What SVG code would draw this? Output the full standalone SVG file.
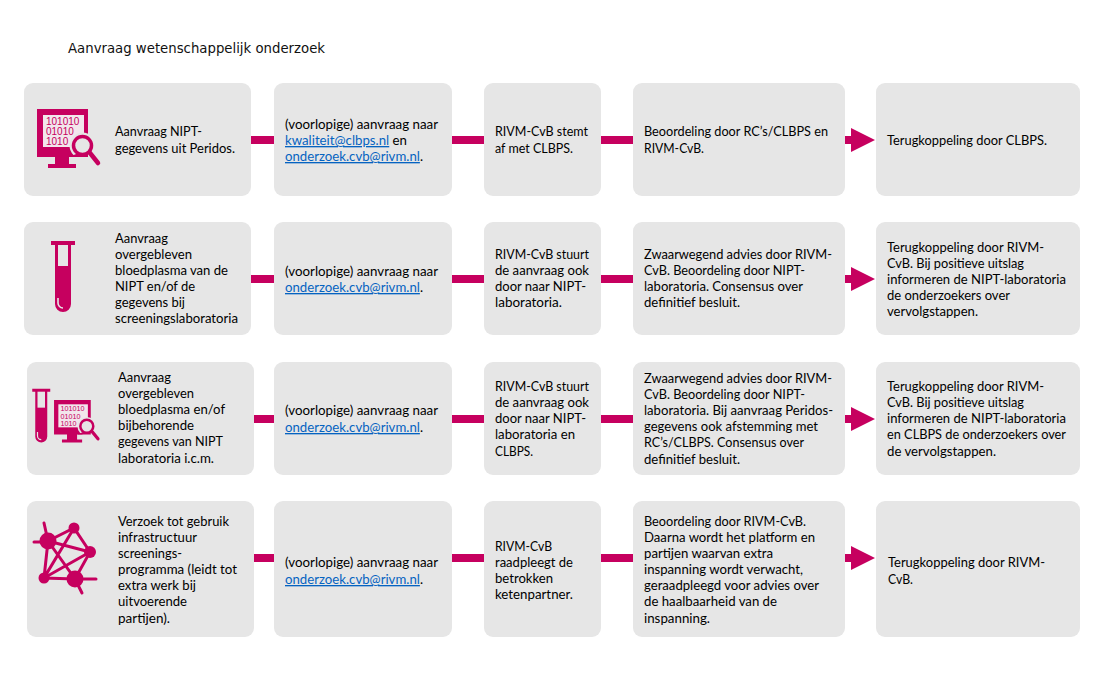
<svg xmlns="http://www.w3.org/2000/svg" width="1115" height="699" viewBox="0 0 1115 699">
<style>
.box{fill:#e6e6e6}
text{lengthAdjust:spacingAndGlyphs}
.t{font-family:"Lato","Open Sans","Liberation Sans",sans-serif;font-size:13.3px;fill:#000}
.h{font-family:"DejaVu Sans",sans-serif;font-size:13.2px;fill:#111}
.l{fill:#0563c1;text-decoration:underline}
.m{fill:#c6005f}
.s{stroke:#c6005f;fill:none}
.c{fill:#c6005f}
.d{font-family:"Liberation Sans",sans-serif;font-size:10px;fill:#c6005f}
</style>
<defs>
<g id="monitor">
<path class="m" d="M37 109H88V157H69V164H76V168H48V164H55V157H37Z"/>
<rect x="43" y="115" width="41" height="32" fill="#f2e6ec"/>
<text class="d" x="46" y="125">101010</text>
<text class="d" x="46" y="135">01010</text>
<text class="d" x="46" y="145">1010</text>
<circle cx="82.500" cy="145.500" r="13" fill="#e6e6e6"/>
<path d="M69 157H88V149Z" class="m"/>
<circle cx="82.500" cy="145.500" r="9" fill="#e6e6e6" stroke="#c6005f" stroke-width="3.500"/>
<path class="s" d="M90 153L98 163" stroke-width="4.500" stroke-linecap="round"/>
</g>
<g id="tube">
<path class="m" d="M51 241H75V245H71V304A8 8 0 0 1 55 304V245H51Z"/>
<rect x="58" y="245" width="10" height="21" fill="#e6e6e6"/>
<path d="M58 298V303A5 5 0 0 0 63 308" stroke="#e6e6e6" stroke-width="1.600" fill="none"/>
</g>
</defs>
<text class="h" x="68" y="53" textLength="257" lengthAdjust="spacingAndGlyphs">Aanvraag wetenschappelijk onderzoek</text>

<g id="connectors">
<rect class="c" x="251" y="136" width="23" height="8"/><rect class="c" x="452" y="136" width="32" height="8"/><rect class="c" x="601" y="136" width="32" height="8"/>
<path class="c" d="M845 136H851V128L875 140L851 152V144H845Z"/>
<rect class="c" x="251" y="275" width="23" height="8"/><rect class="c" x="452" y="275" width="32" height="8"/><rect class="c" x="601" y="275" width="32" height="8"/>
<path class="c" d="M845 275H851V267L875 279L851 291V283H845Z"/>
<rect class="c" x="254" y="415" width="20" height="8"/><rect class="c" x="452" y="415" width="32" height="8"/><rect class="c" x="601" y="415" width="32" height="8"/>
<path class="c" d="M845 415H851V407L875 419L851 431V423H845Z"/>
<rect class="c" x="254" y="554" width="20" height="8"/><rect class="c" x="452" y="554" width="32" height="8"/><rect class="c" x="601" y="554" width="32" height="8"/>
<path class="c" d="M845 554H851V546L875 558L851 570V562H845Z"/>
</g>

<g id="r1c1"><rect class="box" x="24" y="83" width="227" height="113" rx="9"/><use href="#monitor"/>
<text class="t" x="115" y="136" textLength="87" lengthAdjust="spacingAndGlyphs">Aanvraag NIPT-</text><text class="t" x="115" y="153" textLength="120" lengthAdjust="spacingAndGlyphs">gegevens uit Peridos.</text></g>
<g id="r1c2"><rect class="box" x="274" y="83" width="178" height="113" rx="9"/>
<text class="t" x="285" y="129" textLength="153" lengthAdjust="spacingAndGlyphs">(voorlopige) aanvraag naar</text><text class="t" x="285" y="145" textLength="122" lengthAdjust="spacingAndGlyphs"><tspan class="l">kwaliteit@clbps.nl</tspan> en</text><text class="t" x="285" y="161" textLength="138" lengthAdjust="spacingAndGlyphs"><tspan class="l">onderzoek.cvb@rivm.nl</tspan>.</text></g>
<g id="r1c3"><rect class="box" x="484" y="83" width="117" height="113" rx="9"/>
<text class="t" x="495" y="136" textLength="93" lengthAdjust="spacingAndGlyphs">RIVM-CvB stemt</text><text class="t" x="495" y="153" textLength="78" lengthAdjust="spacingAndGlyphs">af met CLBPS.</text></g>
<g id="r1c4"><rect class="box" x="633" y="83" width="212" height="113" rx="9"/>
<text class="t" x="644" y="136" textLength="184" lengthAdjust="spacingAndGlyphs">Beoordeling door RC’s/CLBPS en</text><text class="t" x="644" y="153" textLength="60" lengthAdjust="spacingAndGlyphs">RIVM-CvB.</text></g>
<g id="r1c5"><rect class="box" x="876" y="83" width="204" height="113" rx="9"/>
<text class="t" x="887" y="145" textLength="160" lengthAdjust="spacingAndGlyphs">Terugkoppeling door CLBPS.</text></g>

<g id="r2c1"><rect class="box" x="24" y="222" width="227" height="113" rx="9"/><use href="#tube"/>
<text class="t" x="115" y="243" textLength="53" lengthAdjust="spacingAndGlyphs">Aanvraag</text><text class="t" x="115" y="259" textLength="77" lengthAdjust="spacingAndGlyphs">overgebleven</text><text class="t" x="115" y="275" textLength="113" lengthAdjust="spacingAndGlyphs">bloedplasma van de</text><text class="t" x="115" y="291" textLength="80" lengthAdjust="spacingAndGlyphs">NIPT en/of de</text><text class="t" x="115" y="307" textLength="70" lengthAdjust="spacingAndGlyphs">gegevens bij</text><text class="t" x="115" y="323" textLength="123" lengthAdjust="spacingAndGlyphs">screeningslaboratoria</text></g>
<g id="r2c2"><rect class="box" x="274" y="222" width="178" height="113" rx="9"/>
<text class="t" x="285" y="276" textLength="153" lengthAdjust="spacingAndGlyphs">(voorlopige) aanvraag naar</text><text class="t" x="285" y="292" textLength="138" lengthAdjust="spacingAndGlyphs"><tspan class="l">onderzoek.cvb@rivm.nl</tspan>.</text></g>
<g id="r2c3"><rect class="box" x="484" y="222" width="117" height="113" rx="9"/>
<text class="t" x="495" y="259" textLength="94" lengthAdjust="spacingAndGlyphs">RIVM-CvB stuurt</text><text class="t" x="495" y="275" textLength="94" lengthAdjust="spacingAndGlyphs">de aanvraag ook</text><text class="t" x="495" y="291" textLength="91" lengthAdjust="spacingAndGlyphs">door naar NIPT-</text><text class="t" x="495" y="307" textLength="67" lengthAdjust="spacingAndGlyphs">laboratoria.</text></g>
<g id="r2c4"><rect class="box" x="633" y="222" width="212" height="113" rx="9"/>
<text class="t" x="644" y="259" textLength="188" lengthAdjust="spacingAndGlyphs">Zwaarwegend advies door RIVM-</text><text class="t" x="644" y="275" textLength="161" lengthAdjust="spacingAndGlyphs">CvB. Beoordeling door NIPT-</text><text class="t" x="644" y="291" textLength="159" lengthAdjust="spacingAndGlyphs">laboratoria. Consensus over</text><text class="t" x="644" y="307" textLength="96" lengthAdjust="spacingAndGlyphs">definitief besluit.</text></g>
<g id="r2c5"><rect class="box" x="876" y="222" width="204" height="113" rx="9"/>
<text class="t" x="887" y="252" textLength="157" lengthAdjust="spacingAndGlyphs">Terugkoppeling door RIVM-</text><text class="t" x="887" y="268" textLength="137" lengthAdjust="spacingAndGlyphs">CvB. Bij positieve uitslag</text><text class="t" x="887" y="284" textLength="179" lengthAdjust="spacingAndGlyphs">informeren de NIPT-laboratoria</text><text class="t" x="887" y="300" textLength="123" lengthAdjust="spacingAndGlyphs">de onderzoekers over</text><text class="t" x="887" y="316" textLength="91" lengthAdjust="spacingAndGlyphs">vervolgstappen.</text></g>

<g id="r3c1"><rect class="box" x="27" y="362" width="227" height="113" rx="9"/>
<use href="#tube" transform="translate(-6 205.500) scale(.75 .76)"/>
<use href="#monitor" transform="translate(27.400 321.500) scale(.72)"/>
<text class="t" x="118" y="382" textLength="53" lengthAdjust="spacingAndGlyphs">Aanvraag</text><text class="t" x="118" y="398" textLength="76" lengthAdjust="spacingAndGlyphs">overgebleven</text><text class="t" x="118" y="414" textLength="107" lengthAdjust="spacingAndGlyphs">bloedplasma en/of</text><text class="t" x="118" y="430" textLength="76" lengthAdjust="spacingAndGlyphs">bijbehorende</text><text class="t" x="118" y="446" textLength="105" lengthAdjust="spacingAndGlyphs">gegevens van NIPT</text><text class="t" x="118" y="463" textLength="96" lengthAdjust="spacingAndGlyphs">laboratoria i.c.m.</text></g>
<g id="r3c2"><rect class="box" x="274" y="362" width="178" height="113" rx="9"/>
<text class="t" x="285" y="415" textLength="153" lengthAdjust="spacingAndGlyphs">(voorlopige) aanvraag naar</text><text class="t" x="285" y="432" textLength="138" lengthAdjust="spacingAndGlyphs"><tspan class="l">onderzoek.cvb@rivm.nl</tspan>.</text></g>
<g id="r3c3"><rect class="box" x="484" y="362" width="117" height="113" rx="9"/>
<text class="t" x="495" y="391" textLength="94" lengthAdjust="spacingAndGlyphs">RIVM-CvB stuurt</text><text class="t" x="495" y="407" textLength="94" lengthAdjust="spacingAndGlyphs">de aanvraag ook</text><text class="t" x="495" y="423" textLength="91" lengthAdjust="spacingAndGlyphs">door naar NIPT-</text><text class="t" x="495" y="439" textLength="80" lengthAdjust="spacingAndGlyphs">laboratoria en</text><text class="t" x="495" y="456" textLength="38" lengthAdjust="spacingAndGlyphs">CLBPS.</text></g>
<g id="r3c4"><rect class="box" x="633" y="362" width="212" height="113" rx="9"/>
<text class="t" x="644" y="383" textLength="188" lengthAdjust="spacingAndGlyphs">Zwaarwegend advies door RIVM-</text><text class="t" x="644" y="399" textLength="161" lengthAdjust="spacingAndGlyphs">CvB. Beoordeling door NIPT-</text><text class="t" x="644" y="415" textLength="189" lengthAdjust="spacingAndGlyphs">laboratoria. Bij aanvraag Peridos-</text><text class="t" x="644" y="431" textLength="174" lengthAdjust="spacingAndGlyphs">gegevens ook afstemming met</text><text class="t" x="644" y="447" textLength="160" lengthAdjust="spacingAndGlyphs">RC’s/CLBPS. Consensus over</text><text class="t" x="644" y="464" textLength="96" lengthAdjust="spacingAndGlyphs">definitief besluit.</text></g>
<g id="r3c5"><rect class="box" x="876" y="362" width="204" height="113" rx="9"/>
<text class="t" x="887" y="391" textLength="157" lengthAdjust="spacingAndGlyphs">Terugkoppeling door RIVM-</text><text class="t" x="887" y="407" textLength="137" lengthAdjust="spacingAndGlyphs">CvB. Bij positieve uitslag</text><text class="t" x="887" y="423" textLength="179" lengthAdjust="spacingAndGlyphs">informeren de NIPT-laboratoria</text><text class="t" x="887" y="439" textLength="179" lengthAdjust="spacingAndGlyphs">en CLBPS de onderzoekers over</text><text class="t" x="887" y="456" textLength="109" lengthAdjust="spacingAndGlyphs">de vervolgstappen.</text></g>

<g id="r4c1"><rect class="box" x="27" y="501" width="227" height="136" rx="9"/>
<path class="s" stroke-width="3" stroke-linecap="round" d="M34 542H48M44 523L48 541M48 541L74 528L90 552L44 578L74 528M48 541L90 552L75 579L44 578L48 541L75 579L82 593M75 579H96"/>
<g class="m"><circle cx="48" cy="541" r="8.500"/><circle cx="74" cy="528" r="5.500"/><circle cx="90" cy="552" r="6"/><circle cx="44" cy="578" r="5.500"/><circle cx="75" cy="579" r="8.500"/></g>
<text class="t" x="118" y="526" textLength="111" lengthAdjust="spacingAndGlyphs">Verzoek tot gebruik</text><text class="t" x="118" y="542" textLength="79" lengthAdjust="spacingAndGlyphs">infrastructuur</text><text class="t" x="118" y="558" textLength="64" lengthAdjust="spacingAndGlyphs">screenings-</text><text class="t" x="118" y="574" textLength="119" lengthAdjust="spacingAndGlyphs">programma (leidt tot</text><text class="t" x="118" y="590" textLength="78" lengthAdjust="spacingAndGlyphs">extra werk bij</text><text class="t" x="118" y="606" textLength="69" lengthAdjust="spacingAndGlyphs">uitvoerende</text><text class="t" x="118" y="623" textLength="52" lengthAdjust="spacingAndGlyphs">partijen).</text></g>
<g id="r4c2"><rect class="box" x="274" y="501" width="178" height="136" rx="9"/>
<text class="t" x="285" y="567" textLength="153" lengthAdjust="spacingAndGlyphs">(voorlopige) aanvraag naar</text><text class="t" x="285" y="584" textLength="138" lengthAdjust="spacingAndGlyphs"><tspan class="l">onderzoek.cvb@rivm.nl</tspan>.</text></g>
<g id="r4c3"><rect class="box" x="484" y="501" width="117" height="136" rx="9"/>
<text class="t" x="495" y="551" textLength="57" lengthAdjust="spacingAndGlyphs">RIVM-CvB</text><text class="t" x="495" y="567" textLength="78" lengthAdjust="spacingAndGlyphs">raadpleegt de</text><text class="t" x="495" y="583" textLength="58" lengthAdjust="spacingAndGlyphs">betrokken</text><text class="t" x="495" y="599" textLength="78" lengthAdjust="spacingAndGlyphs">ketenpartner.</text></g>
<g id="r4c4"><rect class="box" x="633" y="501" width="212" height="136" rx="9"/>
<text class="t" x="644" y="526" textLength="162" lengthAdjust="spacingAndGlyphs">Beoordeling door RIVM-CvB.</text><text class="t" x="644" y="542" textLength="171" lengthAdjust="spacingAndGlyphs">Daarna wordt het platform en</text><text class="t" x="644" y="558" textLength="129" lengthAdjust="spacingAndGlyphs">partijen waarvan extra</text><text class="t" x="644" y="574" textLength="159" lengthAdjust="spacingAndGlyphs">inspanning wordt verwacht,</text><text class="t" x="644" y="590" textLength="175" lengthAdjust="spacingAndGlyphs">geraadpleegd voor advies over</text><text class="t" x="644" y="606" textLength="133" lengthAdjust="spacingAndGlyphs">de haalbaarheid van de</text><text class="t" x="644" y="623" textLength="66" lengthAdjust="spacingAndGlyphs">inspanning.</text></g>
<g id="r4c5"><rect class="box" x="876" y="501" width="204" height="136" rx="9"/>
<text class="t" x="888" y="567" textLength="157" lengthAdjust="spacingAndGlyphs">Terugkoppeling door RIVM-</text><text class="t" x="888" y="584" textLength="25" lengthAdjust="spacingAndGlyphs">CvB.</text></g>
</svg>
